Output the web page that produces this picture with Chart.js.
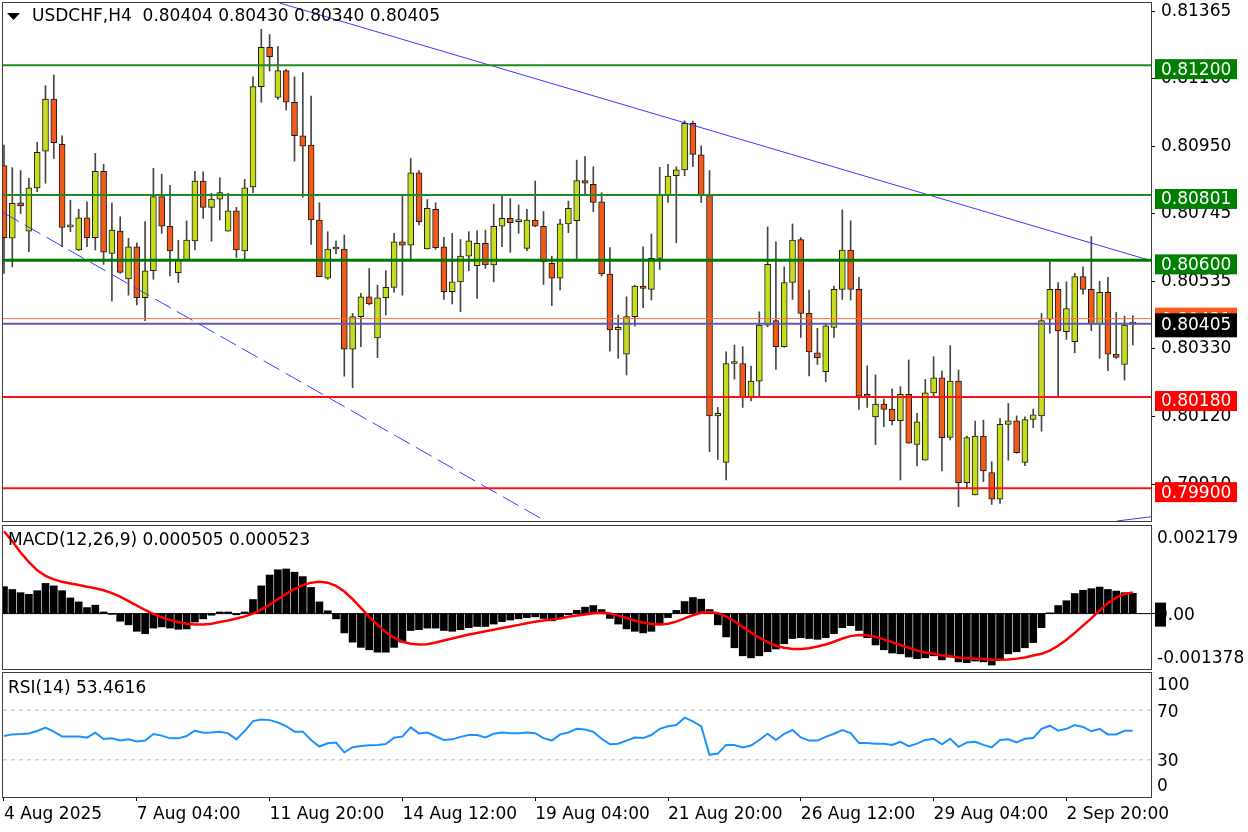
<!DOCTYPE html>
<html>
<head>
<meta charset="utf-8">
<title>USDCHF H4</title>
<script src="https://cdn.jsdelivr.net/npm/chart.js@4.4.1/dist/chart.umd.min.js"></script>
<style>
html, body { margin: 0; padding: 0; background: #fff; }
#wrap { position: relative; width: 1248px; height: 832px; overflow: hidden; }
canvas { position: absolute; left: 0; }
</style>
</head>
<body>
<div id="wrap">
  <canvas id="mainChart" width="1248" height="524" style="top:0px"></canvas>
  <canvas id="macdChart" width="1248" height="148" style="top:524px"></canvas>
  <canvas id="rsiChart" width="1248" height="160" style="top:672px"></canvas>
</div>
<script>
// time axis labels (one every 16 bars)
const tickBars = [0, 16, 32, 48, 64, 80, 96, 112, 128];
const tickLabels = ['4 Aug 2025', '7 Aug 04:00', '11 Aug 20:00', '14 Aug 12:00', '19 Aug 04:00',
  '21 Aug 20:00', '26 Aug 12:00', '29 Aug 04:00', '2 Sep 20:00'];

// H4 candles
const open = [0.80891,0.80668,0.80777,0.80690,0.80823,0.80936,0.81096,0.80957,0.80703,0.80632,
  0.80731,0.80670,0.80874,0.80621,0.80690,0.80543,0.80642,0.80485,0.80568,0.80796,
  0.80705,0.80562,0.80599,0.80660,0.80844,0.80763,0.80788,0.80690,0.80752,0.80629,
  0.80826,0.81134,0.81255,0.81101,0.81183,0.81086,0.80983,0.80954,0.80724,0.80545,
  0.80635,0.80635,0.80327,0.80427,0.80488,0.80362,0.80485,0.80517,0.80657,0.80647,
  0.80869,0.80635,0.80757,0.80642,0.80504,0.80534,0.80613,0.80584,0.80652,0.80586,
  0.80705,0.80729,0.80719,0.80637,0.80724,0.80705,0.80591,0.80545,0.80712,0.80722,
  0.80845,0.80834,0.80780,0.80558,0.80386,0.80312,0.80427,0.80521,0.80511,0.80606,
  0.80801,0.80860,0.80878,0.81021,0.80924,0.80799,0.80122,0.79979,0.80283,0.80283,
  0.80181,0.80229,0.80401,0.80415,0.80335,0.80532,0.80664,0.80437,0.80316,0.80258,
  0.80394,0.80511,0.80632,0.80511,0.80188,0.80119,0.80158,0.80143,0.80107,0.80188,
  0.80034,0.79986,0.80193,0.80239,0.80056,0.80229,0.79917,0.79879,0.80060,0.79948,
  0.79866,0.80096,0.80107,0.79979,0.80111,0.80122,0.80419,0.80511,0.80381,0.80350,
  0.80550,0.80511,0.80404,0.80502,0.80312,0.80280,0.80404];
const high = [0.80954,0.80885,0.80876,0.80852,0.80963,0.81137,0.81170,0.80983,0.80785,0.80757,
  0.80780,0.80929,0.80895,0.80777,0.80734,0.80668,0.80654,0.80719,0.80883,0.80865,
  0.80831,0.80662,0.80721,0.80874,0.80872,0.80806,0.80854,0.80806,0.80763,0.80849,
  0.81164,0.81310,0.81294,0.81257,0.81187,0.81164,0.81177,0.81105,0.80777,0.80688,
  0.80660,0.80678,0.80437,0.80499,0.80575,0.80524,0.80568,0.80683,0.80801,0.80913,
  0.80876,0.80787,0.80777,0.80671,0.80683,0.80664,0.80688,0.80691,0.80693,0.80773,
  0.80801,0.80790,0.80770,0.80757,0.80844,0.80750,0.80613,0.80726,0.80782,0.80908,
  0.80919,0.80888,0.80808,0.80639,0.80432,0.80488,0.80524,0.80642,0.80681,0.80886,
  0.80895,0.80888,0.81029,0.81028,0.80952,0.80876,0.80148,0.80319,0.80340,0.80335,
  0.80275,0.80442,0.80703,0.80657,0.80580,0.80712,0.80670,0.80509,0.80391,0.80406,
  0.80521,0.80755,0.80722,0.80548,0.80276,0.80248,0.80174,0.80205,0.80212,0.80294,
  0.80130,0.80234,0.80304,0.80260,0.80338,0.80263,0.80060,0.80106,0.80109,0.79981,
  0.80114,0.80160,0.80122,0.80119,0.80143,0.80437,0.80596,0.80532,0.80534,0.80560,
  0.80580,0.80673,0.80536,0.80548,0.80440,0.80429,0.80430];
const low = [0.80560,0.80580,0.80744,0.80627,0.80811,0.80837,0.80913,0.80642,0.80688,0.80630,
  0.80642,0.80632,0.80588,0.80475,0.80560,0.80493,0.80463,0.80415,0.80542,0.80683,
  0.80552,0.80532,0.80599,0.80632,0.80729,0.80659,0.80724,0.80690,0.80609,0.80601,
  0.80808,0.81086,0.81182,0.81095,0.81062,0.80905,0.80794,0.80649,0.80550,0.80542,
  0.80620,0.80244,0.80209,0.80335,0.80463,0.80301,0.80432,0.80502,0.80493,0.80601,
  0.80709,0.80635,0.80634,0.80480,0.80466,0.80442,0.80568,0.80483,0.80575,0.80534,
  0.80642,0.80625,0.80683,0.80630,0.80703,0.80526,0.80461,0.80509,0.80685,0.80606,
  0.80801,0.80750,0.80552,0.80321,0.80299,0.80248,0.80398,0.80455,0.80478,0.80572,
  0.80778,0.80654,0.80860,0.80888,0.80778,0.80012,0.79988,0.79925,0.80235,0.80148,
  0.80168,0.80181,0.80396,0.80265,0.80333,0.80480,0.80363,0.80245,0.80280,0.80227,
  0.80363,0.80480,0.80478,0.80142,0.80148,0.80034,0.80089,0.80094,0.79925,0.80038,
  0.79968,0.79986,0.80181,0.79953,0.80048,0.79843,0.79902,0.79879,0.79920,0.79850,
  0.79853,0.79986,0.80007,0.79969,0.80086,0.80075,0.80376,0.80181,0.80357,0.80316,
  0.80496,0.80384,0.80299,0.80261,0.80299,0.80232,0.80340];
const close = [0.80670,0.80775,0.80767,0.80823,0.80932,0.81096,0.80962,0.80701,0.80703,0.80731,
  0.80670,0.80874,0.80625,0.80693,0.80563,0.80642,0.80485,0.80568,0.80796,0.80705,
  0.80629,0.80603,0.80662,0.80844,0.80763,0.80788,0.80808,0.80752,0.80632,0.80823,
  0.81134,0.81255,0.81226,0.81183,0.81086,0.80983,0.80951,0.80724,0.80550,0.80635,
  0.80640,0.80327,0.80427,0.80488,0.80466,0.80485,0.80517,0.80657,0.80647,0.80869,
  0.80719,0.80760,0.80639,0.80504,0.80534,0.80613,0.80660,0.80652,0.80586,0.80705,
  0.80729,0.80716,0.80719,0.80724,0.80705,0.80596,0.80545,0.80712,0.80760,0.80845,
  0.80837,0.80778,0.80558,0.80386,0.80394,0.80427,0.80521,0.80514,0.80606,0.80804,
  0.80859,0.80878,0.81021,0.80926,0.80801,0.80122,0.80130,0.80283,0.80283,0.80181,
  0.80229,0.80401,0.80588,0.80335,0.80532,0.80662,0.80437,0.80319,0.80301,0.80399,
  0.80511,0.80632,0.80511,0.80183,0.80181,0.80158,0.80142,0.80107,0.80188,0.80038,
  0.80104,0.80193,0.80239,0.80055,0.80229,0.79917,0.80055,0.80060,0.79953,0.79866,
  0.80096,0.80107,0.80009,0.80111,0.80125,0.80415,0.80511,0.80383,0.80452,0.80550,
  0.80511,0.80404,0.80502,0.80312,0.80302,0.80401,0.80405];

// MACD(12,26,9)
const macdHist = [0.00067,0.00060,0.00052,0.00048,0.00057,0.00075,0.00069,0.00057,0.00039,0.00029,
  0.00015,0.00021,0.00004,-0.00002,-0.00019,-0.00028,-0.00044,-0.00050,-0.00036,-0.00033,
  -0.00036,-0.00039,-0.00038,-0.00021,-0.00013,-0.00004,0.00004,0.00004,-0.00003,0.00004,
  0.00035,0.00069,0.00096,0.00109,0.00111,0.00103,0.00092,0.00065,0.00029,0.00007,
  -0.00013,-0.00048,-0.00071,-0.00084,-0.00090,-0.00096,-0.00096,-0.00084,-0.00071,-0.00042,
  -0.00040,-0.00036,-0.00036,-0.00042,-0.00044,-0.00040,-0.00035,-0.00032,-0.00032,-0.00026,
  -0.00020,-0.00016,-0.00013,-0.00010,-0.00008,-0.00012,-0.00018,-0.00010,-0.00003,0.00008,
  0.00016,0.00020,0.00010,-0.00012,-0.00026,-0.00038,-0.00044,-0.00048,-0.00044,-0.00028,
  -0.00010,0.00008,0.00030,0.00040,0.00036,0.00010,-0.00028,-0.00058,-0.00085,-0.00105,
  -0.00110,-0.00105,-0.00095,-0.00088,-0.00075,-0.00062,-0.00060,-0.00062,-0.00064,-0.00060,
  -0.00050,-0.00035,-0.00030,-0.00042,-0.00060,-0.00078,-0.00090,-0.00098,-0.00100,-0.00108,
  -0.00112,-0.00110,-0.00105,-0.00115,-0.00108,-0.00120,-0.00122,-0.00118,-0.00120,-0.00128,
  -0.00112,-0.00100,-0.00095,-0.00085,-0.00072,-0.00035,0.00002,0.00020,0.00032,0.00050,
  0.00058,0.00062,0.00066,0.00060,0.00056,0.00052,0.000505];
const macdSignal = [0.00205,0.00180,0.00152,0.00128,0.00108,0.00094,0.00085,0.00079,0.00075,0.00071,
  0.00067,0.00063,0.00058,0.00051,0.00042,0.00031,0.00020,0.00009,-0.00001,-0.00009,
  -0.00016,-0.00021,-0.00025,-0.00027,-0.00027,-0.00025,-0.00021,-0.00017,-0.00012,-0.00007,
  0.00000,0.00010,0.00022,0.00036,0.00049,0.00061,0.00071,0.00077,0.00079,0.00077,
  0.00069,0.00055,0.00036,0.00014,-0.00008,-0.00028,-0.00046,-0.00060,-0.00070,-0.00075,
  -0.00077,-0.00076,-0.00072,-0.00067,-0.00062,-0.00057,-0.00052,-0.00048,-0.00044,-0.00040,
  -0.00036,-0.00032,-0.00028,-0.00024,-0.00020,-0.00017,-0.00015,-0.00012,-0.00008,-0.00005,
  -0.00002,0.00001,0.00002,0.00000,-0.00005,-0.00011,-0.00017,-0.00022,-0.00026,-0.00027,
  -0.00025,-0.00020,-0.00012,-0.00004,0.00002,0.00004,0.00001,-0.00007,-0.00019,-0.00033,
  -0.00047,-0.00060,-0.00071,-0.00080,-0.00085,-0.00088,-0.00088,-0.00086,-0.00082,-0.00077,
  -0.00070,-0.00062,-0.00056,-0.00053,-0.00054,-0.00058,-0.00064,-0.00071,-0.00078,-0.00085,
  -0.00092,-0.00097,-0.00100,-0.00104,-0.00106,-0.00109,-0.00111,-0.00112,-0.00113,-0.00115,
  -0.00115,-0.00114,-0.00112,-0.00109,-0.00104,-0.00100,-0.00092,-0.00080,-0.00065,-0.00048,
  -0.00030,-0.00012,0.00008,0.00026,0.00040,0.00049,0.000523];

// RSI(14)
const rsi = [49.2,50.5,50.8,51.3,53.2,55.9,52.7,48.7,48.7,48.7,
  47.9,51.9,46.8,47.3,45.5,46.5,44.7,45.5,50.8,49.5,
  47.3,47.3,49.2,53.5,51.9,52.1,52.7,51.3,46.5,53.2,
  61.2,62.5,62.0,60.1,57.2,52.7,52.7,46.0,40.7,43.3,
  43.9,35.9,40.1,41.2,41.7,42.0,42.8,47.9,48.7,56.1,
  51.3,52.0,49.0,46.0,46.5,48.5,50.0,50.0,48.0,51.0,
  52.0,51.5,51.5,52.0,51.5,47.5,45.5,50.5,52.0,55.0,
  54.5,52.5,47.0,42.5,43.0,45.5,48.0,47.5,50.0,55.0,
  57.0,58.0,64.0,61.0,57.0,34.0,35.0,42.0,42.0,40.0,
  41.5,46.0,51.0,46.0,51.0,54.0,48.0,45.5,45.5,48.5,
  51.0,54.0,51.5,43.5,43.5,43.0,43.0,42.0,44.5,41.0,
  43.0,46.0,47.0,42.5,47.0,40.5,44.0,44.5,42.0,40.0,
  46.0,46.5,44.0,47.0,47.5,55.0,57.5,53.5,55.0,58.0,
  56.5,53.0,55.0,50.5,50.5,53.4,53.46];

// price axis and drawn objects
const priceTicks = [0.81365, 0.81160, 0.80950, 0.80745, 0.80535, 0.80330, 0.80120, 0.79910];
const resistance = [0.81200, 0.80801, 0.80600];
const support = [0.80180, 0.79900];
const bidPrice = 0.80405;
const askPrice = 0.80421;
const upperTrend = [[33.2, 0.81391], [138.19, 0.80599]];
const lowerTrend = [[-0.12, 0.80747], [65.24, 0.79799]];
const channelStub = [[134.1, 0.79799], [138.19, 0.79812]];
const macdRange = [-0.001378, 0.002179];

// ---- drawing ----
Chart.defaults.font.family = 'DejaVu Sans';
Chart.defaults.font.size = 17;
Chart.defaults.color = '#000';

const X_MIN = -0.12, X_MAX = 138.19;
const AXIS_W = 97;
const BULL = '#c8dc1e', BEAR = '#f25a1a';
const FONT = '17px "DejaVu Sans"';

function seg(points, color, width, dash) {
  return {
    type: 'line',
    data: points.map(p => ({ x: p[0], y: p[1] })),
    borderColor: color, borderWidth: width, borderDash: dash || [],
    pointRadius: 0, order: 0
  };
}
function hline(v, color, width, dash) {
  return seg([[X_MIN, v], [X_MAX, v]], color, width, dash);
}

const baseX = {
  type: 'linear', min: X_MIN, max: X_MAX, offset: false, display: false,
  grid: { offset: false }
};
function fixWidth(s) { s.width = AXIS_W; s.paddingTop = 0; s.paddingBottom = 0; }

const framePlugin = {
  id: 'frame',
  afterDraw(chart) {
    const { ctx, chartArea: a } = chart;
    ctx.save();
    ctx.strokeStyle = '#3c3c3c';
    ctx.lineWidth = 1;
    ctx.strokeRect(a.left - 0.5, a.top - 0.5, a.right - a.left + 1, a.bottom - a.top + 1);
    ctx.restore();
  }
};

function sideLabels(chart, items) {
  const { ctx, chartArea: a } = chart;
  const ys = chart.scales.y;
  ctx.save();
  ctx.font = FONT;
  ctx.fillStyle = '#000';
  items.forEach(it => {
    let y = ys.getPixelForValue(it.v);
    ctx.textBaseline = it.base;
    if (it.base === 'top') y = a.top + 4;
    if (it.base === 'bottom') y = a.bottom - 2;
    if (it.base === 'middle') y += 2;
    if (it.box) { ctx.fillRect(a.right + 4, y - 13, 11, 24); }
    ctx.fillText(it.t, a.right + 6, y);
  });
  ctx.restore();
}

// main price panel
const mainOverlay = {
  id: 'mainOverlay',
  afterDraw(chart) {
    const { ctx, chartArea: a } = chart;
    const ys = chart.scales.y;
    ctx.save();
    // title
    ctx.fillStyle = '#000';
    ctx.beginPath();
    ctx.moveTo(7, 13); ctx.lineTo(20, 13); ctx.lineTo(13.5, 20); ctx.closePath(); ctx.fill();
    ctx.font = FONT;
    ctx.textBaseline = 'middle';
    ctx.fillText('USDCHF,H4  0.80404 0.80430 0.80340 0.80405', 32, 17);
    // level tags
    const tag = (v, bg, up, h, dy) => {
      const y = ys.getPixelForValue(v);
      ctx.fillStyle = bg;
      ctx.fillRect(a.right + 4, y - up, 82, h);
      ctx.fillStyle = '#fff';
      ctx.fillText(v.toFixed(5), a.right + 10, y + dy);
    };
    resistance.forEach(v => tag(v, '#008000', 6, 20, 5));
    support.forEach(v => tag(v, '#ff0000', 6, 20, 5));
    tag(askPrice, '#ff5a1e', 11, 24, 1.5);
    tag(bidPrice, '#000000', 10.5, 24, 1.5);
    ctx.restore();
  }
};

new Chart(document.getElementById('mainChart'), {
  type: 'bar',
  data: {
    datasets: [
      hline(resistance[0], '#1f8a1f', 2),
      hline(resistance[1], '#1f8a1f', 2),
      hline(resistance[2], '#007800', 3),
      hline(support[0], '#ff1010', 2),
      hline(support[1], '#ff1010', 2),
      hline(askPrice, '#ff7040', 1),
      hline(bidPrice, '#5a5ab4', 2),
      seg(upperTrend, '#3a3aff', 1),
      seg(lowerTrend, '#3a3aff', 1, [18, 7]),
      seg(channelStub, '#3a3aff', 1),
      {
        data: close.map((c, i) => ({ x: i, y: [open[i], c] })),
        backgroundColor: close.map((c, i) => c >= open[i] ? BULL : BEAR),
        borderColor: '#1a1a1a', borderWidth: 1, borderSkipped: false,
        barThickness: 6, minBarLength: 2, grouped: false, order: 1
      },
      {
        data: high.map((h, i) => ({ x: i, y: [low[i], h] })),
        backgroundColor: '#454545', barThickness: 1, grouped: false, order: 2
      }
    ]
  },
  options: {
    responsive: false, animation: false, devicePixelRatio: 1,
    layout: { padding: { left: 3, top: 3, bottom: 3, right: 0 } },
    plugins: { legend: { display: false }, tooltip: { enabled: false } },
    scales: {
      x: baseX,
      y: {
        position: 'right', min: 0.79799, max: 0.81391,
        afterBuildTicks: s => { s.ticks = priceTicks.map(v => ({ value: v })); },
        afterFit: fixWidth,
        ticks: { padding: 6, callback: v => v.toFixed(5) },
        grid: { drawOnChartArea: false, drawTicks: true, tickLength: 4, color: '#000' },
        border: { display: true, color: '#000' }
      }
    }
  },
  plugins: [framePlugin, mainOverlay]
});

// MACD panel
new Chart(document.getElementById('macdChart'), {
  type: 'bar',
  data: {
    datasets: [
      Object.assign(seg(macdSignal.map((v, i) => [i, v]), '#ff0000', 2.5), { order: 0 }),
      Object.assign(hline(0, '#000', 1), { order: 2 }),
      {
        data: macdHist.map((v, i) => ({ x: i, y: v })),
        backgroundColor: '#000', barThickness: 7, grouped: false, order: 1
      }
    ]
  },
  options: {
    responsive: false, animation: false, devicePixelRatio: 1,
    layout: { padding: { left: 3, top: 2, bottom: 3, right: 0 } },
    plugins: { legend: { display: false }, tooltip: { enabled: false } },
    scales: {
      x: baseX,
      y: {
        position: 'right', min: macdRange[0], max: macdRange[1],
        afterBuildTicks: s => { s.ticks = [{ value: 0 }]; },
        afterFit: fixWidth,
        ticks: { display: false },
        grid: { drawOnChartArea: false, drawTicks: true, tickLength: 4, color: '#000' },
        border: { display: true, color: '#000' }
      }
    }
  },
  plugins: [framePlugin, {
    id: 'macdText',
    afterDraw(chart) {
      const ctx = chart.ctx;
      ctx.save();
      ctx.font = FONT; ctx.fillStyle = '#000'; ctx.textBaseline = 'middle';
      ctx.fillText('MACD(12,26,9) 0.000505 0.000523', 8, 17);
      ctx.restore();
      sideLabels(chart, [
        { v: macdRange[1], t: macdRange[1].toFixed(6), base: 'top' },
        { v: 0, t: '0.00', base: 'middle', box: true },
        { v: macdRange[0], t: macdRange[0].toFixed(6), base: 'bottom' }
      ]);
    }
  }]
});

// RSI panel with time axis
new Chart(document.getElementById('rsiChart'), {
  type: 'line',
  data: {
    datasets: [
      Object.assign(seg(rsi.map((v, i) => [i, v]), '#1e90ff', 2), { order: 0 }),
      Object.assign(hline(70, '#b8b8b8', 1, [4, 4]), { order: 1 }),
      Object.assign(hline(30, '#b8b8b8', 1, [4, 4]), { order: 1 })
    ]
  },
  options: {
    responsive: false, animation: false, devicePixelRatio: 1,
    layout: { padding: { left: 3, top: 1, bottom: 0, right: 0 } },
    plugins: { legend: { display: false }, tooltip: { enabled: false } },
    scales: {
      x: {
        type: 'linear', min: X_MIN, max: X_MAX, offset: false, position: 'bottom',
        afterBuildTicks: s => { s.ticks = tickBars.map(v => ({ value: v })); },
        afterFit: s => { s.height = 35; s.paddingLeft = 0; s.paddingRight = 0; },
        ticks: { align: 'start', autoSkip: false, maxRotation: 0, padding: 3,
          callback: (v, i) => tickLabels[i] },
        grid: { drawOnChartArea: false, drawTicks: true, tickLength: 4, color: '#000', offset: false },
        border: { display: false }
      },
      y: {
        position: 'right', min: 0, max: 100,
        afterBuildTicks: s => { s.ticks = [{ value: 30 }, { value: 70 }]; },
        afterFit: fixWidth,
        ticks: { display: false },
        grid: { display: false },
        border: { display: true, color: '#000' }
      }
    }
  },
  plugins: [framePlugin, {
    id: 'rsiText',
    afterDraw(chart) {
      const ctx = chart.ctx;
      ctx.save();
      ctx.font = FONT; ctx.fillStyle = '#000'; ctx.textBaseline = 'middle';
      ctx.fillText('RSI(14) 53.4616', 8, 17);
      ctx.restore();
      sideLabels(chart, [
        { v: 100, t: '100', base: 'top' },
        { v: 70, t: '70', base: 'middle' },
        { v: 30, t: '30', base: 'middle' },
        { v: 0, t: '0', base: 'bottom' }
      ]);
    }
  }]
});
</script>
</body>
</html>
